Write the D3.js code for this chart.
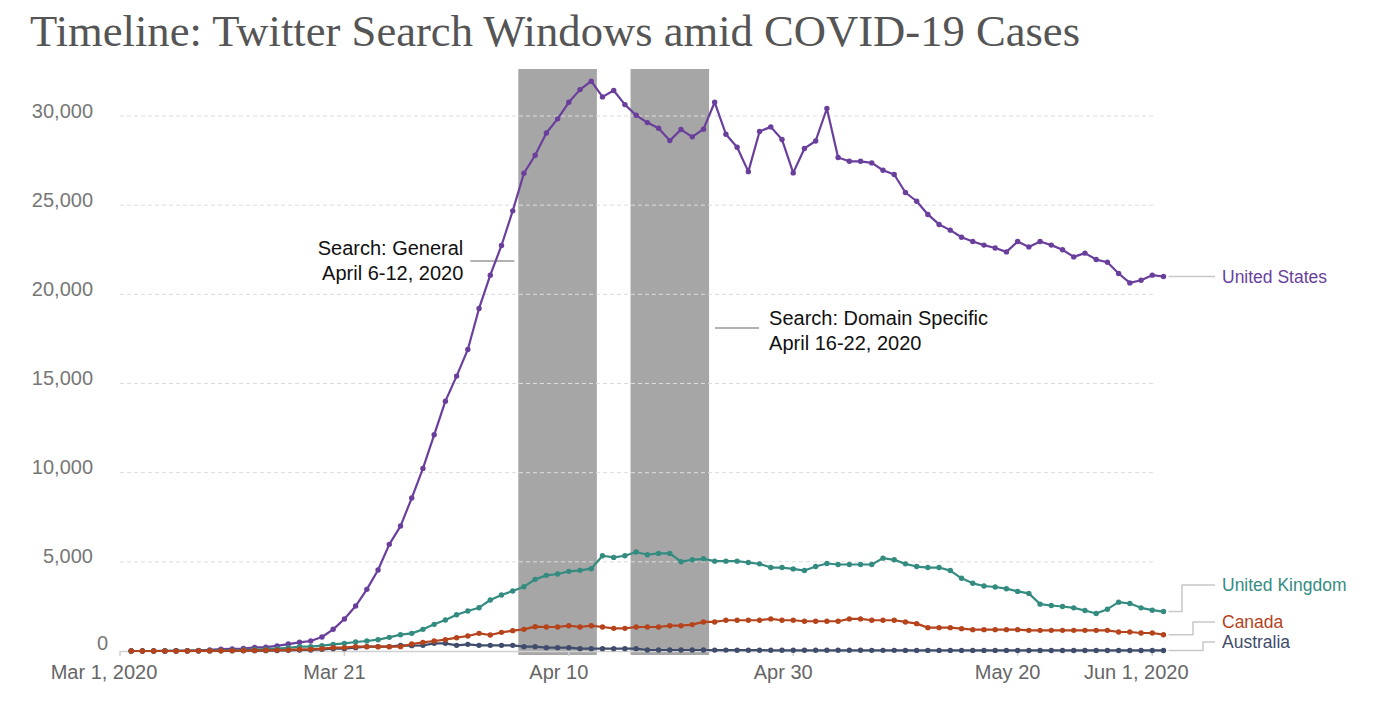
<!DOCTYPE html>
<html>
<head>
<meta charset="utf-8">
<script src="https://cdn.jsdelivr.net/npm/d3@7"></script>
<style>
  body { margin: 0; background: #fff; }
  svg { display: block; }
</style>
</head>
<body>
<div id="chart"></div>
<script>
// one point a day, Mar 2 .. Jun 2, 2020
const firstDay = "2020-03-02";

const unitedStates = [
  0, 0, 0, 5, 10, 20, 30, 60, 100, 120,
  140, 200, 220, 290, 390, 488, 560, 785, 1216, 1794,
  2522, 3458, 4540, 5980, 7006, 8576, 10240, 12124, 14010, 15414,
  16910, 19208, 21075, 22740, 24680, 26790, 27800, 29050, 29840, 30770,
  31480, 31950, 31070, 31430, 30640, 30040, 29630, 29310, 28620, 29240,
  28830, 29260, 30770, 28980, 28250, 26880, 29130, 29390, 28680, 26810,
  28180, 28600, 30420, 27670, 27460, 27460, 27370, 26960, 26720, 25710,
  25220, 24480, 23920, 23600, 23200, 22960, 22760, 22600, 22380, 22960,
  22660, 22960, 22760, 22500, 22100, 22310, 21950, 21800, 21170, 20640,
  20790, 21075, 21000
];

const unitedKingdom = [
  0, 0, 0, 5, 10, 10, 20, 20, 30, 50,
  60, 80, 100, 130, 180, 243, 243, 299, 374, 430,
  504, 560, 635, 766, 915, 990, 1214, 1495, 1738, 2036,
  2242, 2429, 2859, 3139, 3363, 3606, 4017, 4241, 4316, 4466,
  4522, 4615, 5343, 5250, 5343, 5549, 5399, 5474, 5474, 5007,
  5113, 5170, 5038, 5038, 5038, 4962, 4887, 4680, 4680, 4605,
  4510, 4736, 4906, 4850, 4850, 4850, 4850, 5207, 5113, 4887,
  4736, 4680, 4680, 4510, 4077, 3795, 3644, 3588, 3494, 3343,
  3230, 2627, 2552, 2496, 2420, 2270, 2100, 2345, 2740, 2665,
  2420, 2288, 2213
];

const canada = [
  0, 0, 0, 0, 0, 5, 10, 10, 15, 20,
  25, 30, 40, 50, 60, 93, 93, 131, 187, 187,
  243, 243, 243, 243, 243, 392, 486, 560, 635, 747,
  841, 990, 897, 1046, 1140, 1214, 1364, 1345, 1345, 1420,
  1345, 1420, 1345, 1271, 1271, 1345, 1345, 1345, 1420, 1420,
  1479, 1630, 1630, 1724, 1724, 1724, 1724, 1799, 1724, 1724,
  1667, 1667, 1667, 1667, 1799, 1799, 1724, 1724, 1724, 1630,
  1535, 1309, 1309, 1309, 1253, 1196, 1196, 1196, 1196, 1196,
  1159, 1159, 1159, 1159, 1159, 1159, 1159, 1159, 1065, 1065,
  1008, 1008, 914
];

const australia = [
  0, 0, 0, 0, 0, 0, 5, 5, 10, 10,
  15, 20, 20, 30, 40, 56, 56, 93, 131, 131,
  187, 243, 243, 243, 318, 299, 318, 430, 430, 318,
  374, 318, 318, 318, 318, 243, 243, 187, 187, 187,
  131, 131, 131, 131, 131, 131, 56, 56, 56, 56,
  56, 56, 50, 50, 45, 45, 45, 40, 40, 40,
  40, 40, 40, 38, 38, 38, 36, 36, 36, 35,
  35, 35, 35, 34, 34, 34, 33, 33, 33, 32,
  32, 32, 32, 31, 31, 31, 30, 30, 30, 30,
  30, 30, 30
];

const seriesNames = ["United States", "United Kingdom", "Canada", "Australia"];

const yTicks = [0, 5000, 10000, 15000, 20000, 25000, 30000];
const xTickDates = ["2020-03-01", "2020-03-21", "2020-04-10", "2020-04-30", "2020-05-20", "2020-06-01"];
const xTickLabels = ["Mar 1, 2020", "Mar 21", "Apr 10", "Apr 30", "May 20", "Jun 1, 2020"];

const windowStarts = ["2020-04-06", "2020-04-16"];
const windowEnds = ["2020-04-12", "2020-04-22"];
const windowNotes = [
  ["Search: General", "April 6-12, 2020"],
  ["Search: Domain Specific", "April 16-22, 2020"]
];

const title = "Timeline: Twitter Search Windows amid COVID-19 Cases";

// ---- layout / style ----
const width = 1374, height = 716;
const sans = "'Liberation Sans', Arial, Helvetica, sans-serif";
const colors = {
  "United States": "#6a3f9c",
  "United Kingdom": "#348c81",
  "Canada": "#b5441d",
  "Australia": "#3f4c6b"
};
// where the right-hand labels sit (elbow x, label y)
const labelLayout = {
  "United States": { elbow: null, y: null },
  "United Kingdom": { elbow: 1182, y: 585 },
  "Canada": { elbow: 1193, y: 622 },
  "Australia": { elbow: 1203, y: 642 }
};
const drawOrder = ["United States", "United Kingdom", "Australia", "Canada"];

const parse = d3.utcParse("%Y-%m-%d");
const start = parse(firstDay);
const valuesByName = {
  "United States": unitedStates,
  "United Kingdom": unitedKingdom,
  "Canada": canada,
  "Australia": australia
};
const series = seriesNames.map(name => ({
  name,
  points: valuesByName[name].map((v, i) => ({ date: d3.utcDay.offset(start, i), value: v }))
}));

const x = d3.scaleUtc()
  .domain([parse("2020-03-01"), parse("2020-06-02")])
  .range([120, 1163.5]);
const y = d3.scaleLinear()
  .domain([0, 30000])
  .range([651, 116]);

const svg = d3.select("#chart").append("svg")
  .attr("width", width)
  .attr("height", height)
  .style("background", "#fff");

// title
svg.append("text")
  .attr("x", 30)
  .attr("y", 46)
  .attr("font-family", "'Liberation Serif', 'Times New Roman', serif")
  .attr("font-size", 45)
  .attr("fill", "#555")
  .attr("textLength", 1050)
  .attr("lengthAdjust", "spacingAndGlyphs")
  .text(title);

// search windows (shaded)
const dayW = x(parse("2020-03-02")) - x(parse("2020-03-01"));
const windows = windowStarts.map((s, i) => ({
  x0: x(parse(s)) - dayW / 2,
  x1: x(parse(windowEnds[i])) + dayW / 2,
  note: windowNotes[i]
}));

svg.append("g").selectAll("rect")
  .data(windows)
  .enter().append("rect")
  .attr("x", d => d.x0)
  .attr("y", 69)
  .attr("width", d => d.x1 - d.x0)
  .attr("height", 655 - 69)
  .attr("fill", "#a6a6a6");

// gridlines
svg.append("g").selectAll("line")
  .data(yTicks.filter(t => t > 0))
  .enter().append("line")
  .attr("x1", 120)
  .attr("x2", 1153)
  .attr("y1", d => y(d))
  .attr("y2", d => y(d))
  .attr("stroke", "#dcdcdc")
  .attr("stroke-width", 1)
  .attr("stroke-dasharray", "4,3");

// y labels
svg.append("g").selectAll("text")
  .data(yTicks)
  .enter().append("text")
  .attr("x", d => d === 0 ? 108 : 93)
  .attr("y", d => d === 0 ? y(d) - 1 : y(d) + 1.5)
  .attr("text-anchor", "end")
  .attr("font-family", sans)
  .attr("font-size", 20)
  .attr("fill", "#777")
  .text(d => d3.format(",")(d));

// x axis line + ticks
svg.append("line")
  .attr("x1", 120).attr("x2", 1165)
  .attr("y1", 651.5).attr("y2", 651.5)
  .attr("stroke", "#d0d0d0")
  .attr("stroke-width", 1.5);

const xt = svg.append("g");
xt.selectAll("line")
  .data(xTickDates)
  .enter().append("line")
  .attr("x1", d => x(parse(d)))
  .attr("x2", d => x(parse(d)))
  .attr("y1", 651)
  .attr("y2", 656)
  .attr("stroke", "#d0d0d0")
  .attr("stroke-width", 1.5);
xt.selectAll("text")
  .data(xTickDates)
  .enter().append("text")
  .attr("x", (d, i) => x(parse(d)) + (xTickLabels[i].includes(",") ? -16 : -10))
  .attr("y", 679)
  .attr("text-anchor", "middle")
  .attr("font-family", sans)
  .attr("font-size", 20)
  .attr("fill", "#666")
  .text((d, i) => xTickLabels[i]);

// annotations for the windows
const ann = svg.append("g");
const w1 = windows[0], w2 = windows[1];
ann.append("line")
  .attr("x1", w1.x0 - 48).attr("x2", w1.x0 - 4)
  .attr("y1", 261).attr("y2", 261)
  .attr("stroke", "#999").attr("stroke-width", 1.5);
ann.append("text")
  .attr("text-anchor", "end")
  .attr("font-family", sans)
  .attr("font-size", 20)
  .attr("fill", "#111")
  .selectAll("tspan")
  .data(w1.note)
  .enter().append("tspan")
  .attr("x", w1.x0 - 55)
  .attr("y", (d, i) => 255 + i * 25)
  .text(d => d);

ann.append("line")
  .attr("x1", w2.x1 + 6).attr("x2", w2.x1 + 50)
  .attr("y1", 328).attr("y2", 328)
  .attr("stroke", "#999").attr("stroke-width", 1.5);
ann.append("text")
  .attr("text-anchor", "start")
  .attr("font-family", sans)
  .attr("font-size", 20)
  .attr("fill", "#111")
  .selectAll("tspan")
  .data(w2.note)
  .enter().append("tspan")
  .attr("x", w2.x1 + 60)
  .attr("y", (d, i) => 325 + i * 25)
  .text(d => d);

// label connectors + labels
series.forEach(s => {
  const last = s.points[s.points.length - 1];
  const lx = x(last.date), ly = y(last.value);
  const lay = labelLayout[s.name];
  const labelY = lay.y === null ? ly : lay.y;
  let pts;
  if (lay.elbow === null) {
    pts = [[lx + 5, ly], [1215, ly]];
  } else {
    pts = [[lx + 5, ly], [lay.elbow, ly], [lay.elbow, labelY], [1215, labelY]];
  }
  svg.append("path")
    .attr("d", d3.line()(pts))
    .attr("fill", "none")
    .attr("stroke", "#c8c8c8")
    .attr("stroke-width", 1.5);
  svg.append("text")
    .attr("x", 1222)
    .attr("y", labelY)
    .attr("dy", "0.35em")
    .attr("font-family", sans)
    .attr("font-size", 17.5)
    .attr("fill", colors[s.name])
    .text(s.name);
});

// lines + dots
const line = d3.line()
  .x(d => x(d.date))
  .y(d => y(d.value));

drawOrder.forEach(name => {
  const s = series.find(d => d.name === name);
  const g = svg.append("g");
  g.append("path")
    .datum(s.points)
    .attr("fill", "none")
    .attr("stroke", colors[name])
    .attr("stroke-width", 2.2)
    .attr("stroke-linejoin", "round")
    .attr("d", line);
  g.selectAll("circle")
    .data(s.points)
    .enter().append("circle")
    .attr("cx", d => x(d.date))
    .attr("cy", d => y(d.value))
    .attr("r", 2.7)
    .attr("fill", colors[name]);
});
</script>
</body>
</html>
